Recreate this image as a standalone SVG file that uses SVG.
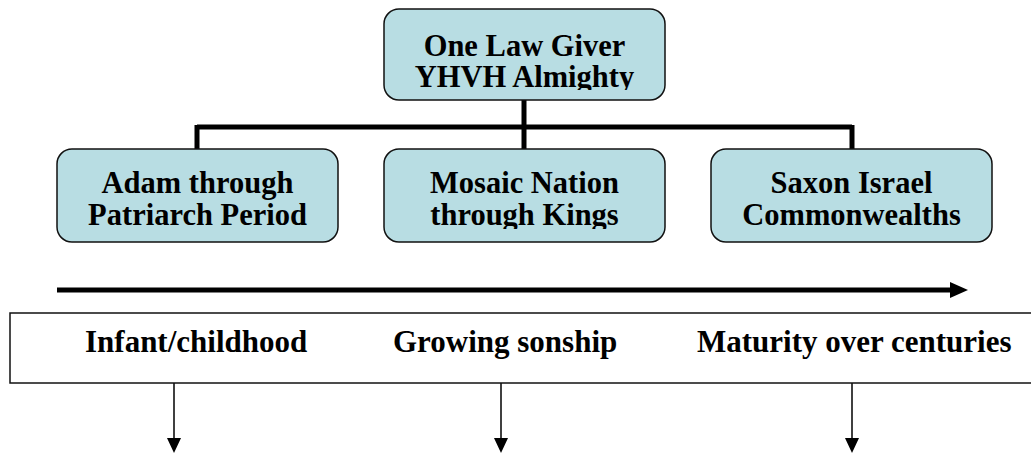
<svg xmlns="http://www.w3.org/2000/svg" width="1031" height="454" viewBox="0 0 1031 454">
<style>
.box{fill:#b8dde3;stroke:#111;stroke-width:1.5}
.t{font-family:"Liberation Serif","Times New Roman",serif;font-weight:bold;font-size:30.5px;fill:#000}
.b{font-size:31px}
.c{text-anchor:middle}
.thick{stroke:#000;stroke-width:5;fill:none}
.thin{stroke:#000;stroke-width:1.5;fill:none}
</style>
<defs>
<clipPath id="clipTop"><rect x="384" y="9" width="281" height="81"/></clipPath>
<clipPath id="clipMid"><rect x="384" y="149" width="281" height="80"/></clipPath>
</defs>
<g id="connectors">
<path class="thick" d="M524,100 V127 M197,127 H852 M197,125 V149 M524,127 V149 M852,125 V149"/>
<line class="thick" x1="57" y1="290" x2="950" y2="290"/>
<path d="M950,282 L968,290 L950,298 Z" fill="#000"/>
<line class="thin" x1="174" y1="383" x2="174" y2="438"/>
<path d="M167,438 L181,438 L174,453 Z" fill="#000"/>
<line class="thin" x1="501" y1="383" x2="501" y2="438"/>
<path d="M494,438 L508,438 L501,453 Z" fill="#000"/>
<line class="thin" x1="852" y1="383" x2="852" y2="438"/>
<path d="M845,438 L859,438 L852,453 Z" fill="#000"/>
</g>
<g id="lawgiver">
<rect class="box" x="384" y="9" width="281" height="91" rx="15"/>
<g clip-path="url(#clipTop)">
<text class="t c" x="524.5" y="56">One Law Giver</text>
<text class="t c" x="524.5" y="87">YHVH Almighty</text>
</g>
</g>
<g id="adam">
<rect class="box" x="57" y="149" width="281" height="93" rx="15"/>
<text class="t c" x="197.5" y="193">Adam through</text>
<text class="t c" x="197.5" y="225">Patriarch Period</text>
</g>
<g id="mosaic">
<rect class="box" x="384" y="149" width="281" height="93" rx="15"/>
<g clip-path="url(#clipMid)">
<text class="t c" x="524.5" y="193">Mosaic Nation</text>
<text class="t c" x="524.5" y="225">through Kings</text>
</g>
</g>
<g id="saxon">
<rect class="box" x="711" y="149" width="281" height="93" rx="15"/>
<text class="t c" x="851.5" y="193">Saxon Israel</text>
<text class="t c" x="851.5" y="225">Commonwealths</text>
</g>
<g id="stages">
<rect x="10" y="313" width="1030" height="70" fill="#fff" stroke="#111" stroke-width="1.5"/>
<text class="t b" x="85" y="352">Infant/childhood</text>
<text class="t b" x="393" y="352">Growing sonship</text>
<text class="t b" x="697" y="352">Maturity over centuries</text>
</g>
</svg>
